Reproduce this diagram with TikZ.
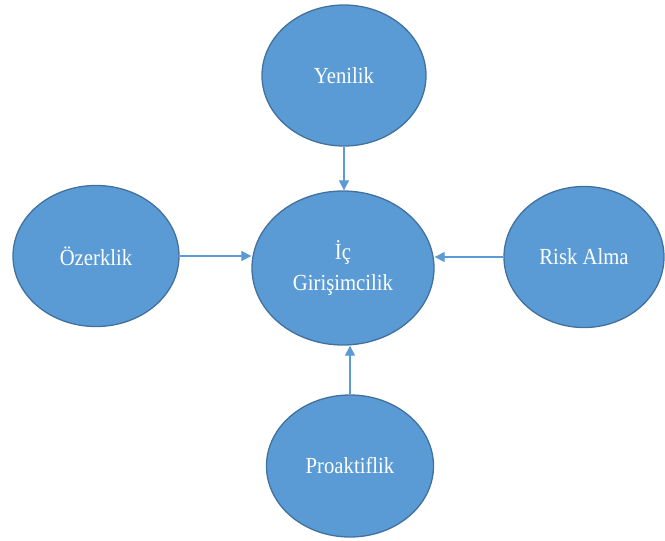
\documentclass[tikz,border=0pt]{standalone}
\usepackage{fontspec}
\setmainfont{Liberation Serif}[FakeStretch=0.9,Ligatures=NoCommon]
\usetikzlibrary{arrows.meta,shapes.geometric}
\definecolor{fillblue}{HTML}{5B9BD5}
\definecolor{edgeblue}{HTML}{41719C}
\tikzset{
  bub/.style={ellipse, draw=edgeblue, fill=fillblue, line width=1.3pt, inner sep=0pt,
    text=white, font=\fontsize{23}{31}\selectfont, align=center},
  arr/.style={draw=fillblue, line width=1.2pt, -{Triangle[length=10pt,width=10pt]}}
}
\begin{document}
\begin{tikzpicture}[x=1pt,y=-1pt]
\useasboundingbox (0,0) rectangle (665,541);
\node[bub, minimum width=182pt, minimum height=154pt] (C) at (343,268) {İç\\Girişimcilik};
\node[bub, minimum width=164pt, minimum height=141pt] (Y) at (344,75.5) {Yenilik};
\node[bub, minimum width=166pt, minimum height=141pt] (L) at (96,256) {Özerklik};
\node[bub, minimum width=160pt, minimum height=141pt] (R) at (584,257) {Risk Alma};
\node[bub, minimum width=167pt, minimum height=142pt] (P) at (350,466) {Proaktiflik};
\draw[arr] (Y.south) -- (Y.south |- C.north);
\draw[arr] (L.east) -- (L.east -| C.west);
\draw[arr] (R.west) -- (R.west -| C.east);
\draw[arr] (P.north) -- (P.north |- C.south);
\end{tikzpicture}
\end{document}
